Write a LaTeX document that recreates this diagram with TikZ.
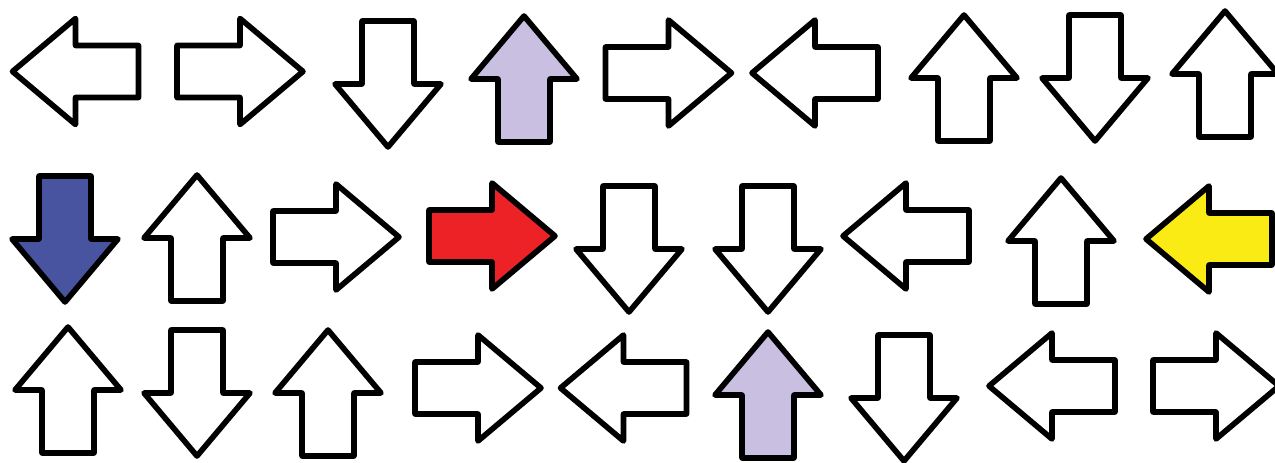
\documentclass[tikz,border=0pt]{standalone}
\usetikzlibrary{calc}
\definecolor{lilac}{RGB}{201,192,225}
\definecolor{navyfill}{RGB}{72,84,160}
\definecolor{redfill}{RGB}{236,34,39}
\definecolor{yellowfill}{RGB}{250,235,20}
\tikzstyle{blockarrow}=[draw=black,line width=3.2pt,line join=round]
\pgfmathsetmacro{\headlen}{63}
\pgfmathsetmacro{\headhalf}{53}
\pgfmathsetmacro{\shafthalf}{26}
\newcommand{\drawblockarrow}[4]{
\begin{scope}[shift={(#1,#2)},rotate=#3]
  \draw[blockarrow,fill=#4] (-\headlen,-\shafthalf) -- (0,-\shafthalf) -- (0,-\headhalf) -- (\headlen,0)
     -- (0,\headhalf) -- (0,\shafthalf) -- (-\headlen,\shafthalf) -- cycle;
\end{scope}
}

\begin{document}
\begin{tikzpicture}[x=0.02cm,y=-0.02cm]
  \useasboundingbox (0,0) rectangle (1275,463);
  % top row
  \foreach \x/\y/\a/\c in {75.5/71.5/180/white, 240/71.5/0/white, 388/84/270/white, 524/79/90/lilac,
      668.5/73/0/white, 815/73/180/white, 964/78/90/white, 1095/78/270/white, 1225/74/90/white} {
    \drawblockarrow{\x}{\y}{\a}{\c}
  }
  % middle row
  \foreach \x/\y/\a/\c in {65/239/270/navyfill, 197/238/90/white, 336/237/0/white, 492/236/0/redfill,
      629/249/270/white, 768/249/270/white, 906/236/180/white, 1061/241/90/white, 1209/239/180/yellowfill} {
    \drawblockarrow{\x}{\y}{\a}{\c}
  }
  % bottom row
  \foreach \x/\y/\a/\c in {68/390/90/white, 197/393/270/white, 328/393/90/white, 478/388/0/white,
      623.5/388/180/white, 768/395/90/lilac, 904/398/270/white, 1052/386/180/white, 1216/386/0/white} {
    \drawblockarrow{\x}{\y}{\a}{\c}
  }
\end{tikzpicture}
\end{document}
